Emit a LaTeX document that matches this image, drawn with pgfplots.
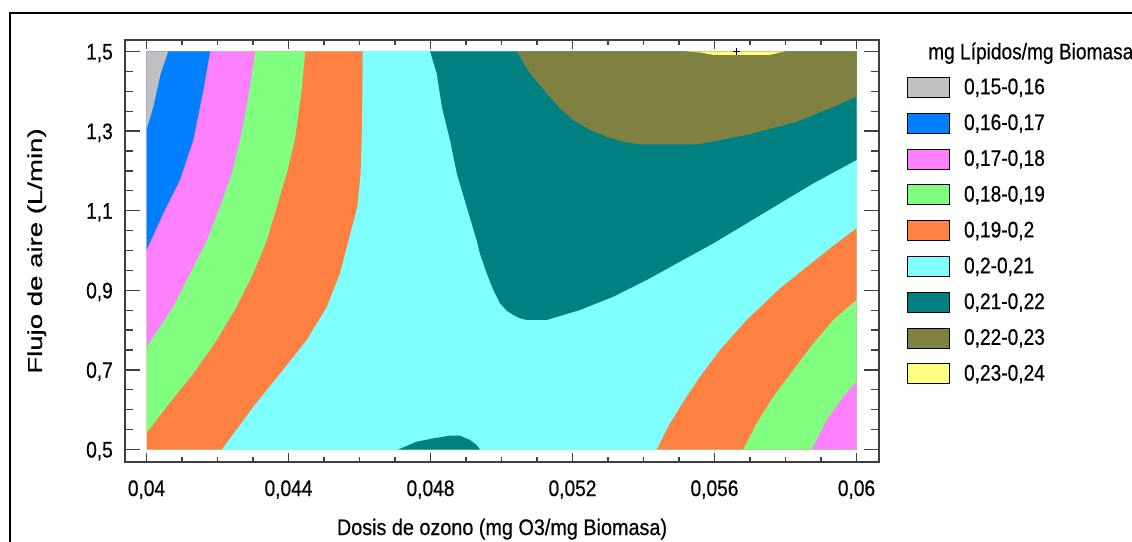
\documentclass[border=0pt]{standalone}
\usepackage{pgfplots}
\pgfplotsset{compat=1.18}
\usepackage{fontspec}
\setmainfont{Liberation Sans}[FakeStretch=0.85, FakeBold=0.5]
\newfontfamily\ylabfont{Liberation Sans}[FakeStretch=1.38, FakeBold=0.5]
\newfontfamily\xlabfont{Liberation Sans}[FakeStretch=0.88, FakeBold=0.5]
\newcommand\tfont{\fontsize{22.5bp}{27bp}\selectfont}
\definecolor{cgray}{HTML}{C0C0C0}
\definecolor{cblue}{HTML}{0080FF}
\definecolor{cpink}{HTML}{FF80FF}
\definecolor{cgreen}{HTML}{80FF80}
\definecolor{corange}{HTML}{FF8040}
\definecolor{ccyan}{HTML}{80FFFF}
\definecolor{cteal}{HTML}{008080}
\definecolor{colive}{HTML}{808040}
\definecolor{cyellow}{HTML}{FFFF80}
\definecolor{cframe}{HTML}{404040}
\begin{document}
\begin{tikzpicture}
\begin{axis}[
  at={(125bp,80bp)}, anchor=south west,
  scale only axis, width=754bp, height=422bp,
  xmin=0.039394, xmax=0.060634, ymin=0.4686, ymax=1.5289,
  axis line style={draw=cframe, line width=1.5bp},
  tick align=inside,
  xtick=\empty,
  ytick={0.5,0.7,0.9,1.1,1.3,1.5},
  yticklabels={{0,5},{0,7},{0,9},{1,1},{1,3},{1,5}},
  minor y tick num=3,
  major tick length=15bp, minor tick length=8bp,
  tick style={draw=cframe, line width=1.3bp},
  yticklabel style={font=\tfont, anchor=base east, inner sep=0pt, xshift=-12bp, yshift=-8bp},
  ylabel={Flujo de aire (L/min)},
  ylabel style={at={(axis description cs:-0.1101,0.5)}, anchor=base, inner sep=0pt,
    font=\ylabfont\fontsize{20bp}{24bp}\selectfont},
  legend image code/.code={\fill[#1] (0bp,-10bp) rectangle (42bp,10bp);},
  legend cell align=left,
  legend style={at={(axis description cs:1.0367,0.9123)}, anchor=north west,
    draw=none, fill=none, inner sep=0pt, outer sep=0pt,
    row sep=15.4bp, column sep=15bp, font=\tfont,
    nodes={inner sep=0pt, outer sep=0pt, text height=17bp, text depth=3bp}},
]
% background level 0,2-0,21
\addplot[fill=ccyan, draw=none, forget plot] coordinates {(0.04,0.5) (0.06,0.5) (0.06,1.5) (0.04,1.5)};
% left bands
\addplot[fill=corange, draw=none, forget plot] coordinates {
(0.04,1.5) (0.04609,1.5) (0.04608,1.40) (0.04606,1.278) (0.04603,1.194) (0.04594,1.110)
(0.04569,1.026) (0.04545,0.943) (0.04508,0.859) (0.04451,0.775) (0.04376,0.691)
(0.04301,0.608) (0.04212,0.5) (0.04,0.5)};
\addplot[fill=cgreen, draw=none, forget plot] coordinates {
(0.04,1.5) (0.04447,1.5) (0.04437,1.403) (0.04418,1.278) (0.04395,1.194) (0.04367,1.110)
(0.04339,1.026) (0.04301,0.943) (0.04254,0.859) (0.04198,0.775) (0.04132,0.691)
(0.04057,0.608) (0.04,0.541)};
\addplot[fill=cpink, draw=none, forget plot] coordinates {
(0.04,1.5) (0.04306,1.5) (0.04282,1.361) (0.04263,1.278) (0.04240,1.194) (0.04207,1.110)
(0.04170,1.026) (0.04123,0.943) (0.04075,0.859) (0.04,0.758)};
\addplot[fill=cblue, draw=none, forget plot] coordinates {
(0.04,1.5) (0.04179,1.5) (0.04160,1.403) (0.04132,1.278) (0.04094,1.177) (0.04047,1.093)
(0.04,1.001)};
\addplot[fill=cgray, draw=none, forget plot] coordinates {
(0.04,1.5) (0.04061,1.5) (0.04040,1.445) (0.04019,1.361) (0.04,1.303)};
% right bottom bands
\addplot[fill=corange, draw=none, forget plot] coordinates {
(0.06,0.5) (0.054372,0.5) (0.054747,0.5658) (0.055217,0.6327) (0.055592,0.6829)
(0.056156,0.75) (0.056908,0.8254) (0.057846,0.905) (0.058784,0.9719) (0.059254,1.0055)
(0.06,1.0558)};
\addplot[fill=cgreen, draw=none, forget plot] coordinates {
(0.06,0.5) (0.056812,0.5) (0.057189,0.5658) (0.057657,0.6327) (0.05822,0.6997)
(0.058784,0.7667) (0.059347,0.8254) (0.06,0.8756)};
\addplot[fill=cpink, draw=none, forget plot] coordinates {
(0.06,0.5) (0.058738,0.5) (0.05916,0.574) (0.059629,0.6327) (0.06,0.6704)};
% upper high region
\addplot[fill=cteal, draw=none, forget plot] coordinates {
(0.04799,1.5) (0.048175,1.445) (0.04832,1.361) (0.048549,1.2776) (0.04874,1.194)
(0.049019,1.11) (0.0493,1.026) (0.04939,0.993) (0.049583,0.9427) (0.049769,0.9008)
(0.049958,0.8673) (0.050146,0.8488) (0.050333,0.838) (0.050521,0.8296) (0.05071,0.8254)
(0.051273,0.8254) (0.052211,0.8505) (0.05315,0.884)
(0.05409,0.9259) (0.055028,0.9719) (0.055967,1.018) (0.056908,1.0683) (0.057846,1.1186)
(0.058784,1.1688) (0.06,1.2274) (0.06,1.5)};
\addplot[fill=colive, draw=none, forget plot] coordinates {
(0.050428,1.5) (0.050803,1.4452) (0.051273,1.395) (0.051648,1.3573) (0.052023,1.3279)
(0.052493,1.3028) (0.052964,1.2859) (0.053432,1.2734)
(0.053902,1.2668) (0.055499,1.2668) (0.056908,1.2902) (0.058316,1.3236) (0.059254,1.3573)
(0.06,1.3864) (0.06,1.5)};
\addplot[fill=cyellow, draw=none, forget plot] coordinates {
(0.055217,1.5) (0.0556,1.4975) (0.055967,1.4915) (0.057564,1.4915) (0.05785,1.4975)
(0.057987,1.5)};
% bottom bump
\addplot[fill=cteal, draw=none, forget plot] coordinates {
(0.047093,0.5) (0.047611,0.5196) (0.048079,0.5281) (0.048549,0.5347) (0.048831,0.5347)
(0.049113,0.5239) (0.049302,0.5113) (0.049395,0.5)};
% optimum marker
\addplot[only marks, mark=+, mark size=3.5bp, black, line width=0.8bp, forget plot] coordinates {(0.05663,1.5)};
% legend
\addlegendimage{fill=cgray}\addlegendentry{0,15-0,16}
\addlegendimage{fill=cblue}\addlegendentry{0,16-0,17}
\addlegendimage{fill=cpink}\addlegendentry{0,17-0,18}
\addlegendimage{fill=cgreen}\addlegendentry{0,18-0,19}
\addlegendimage{fill=corange}\addlegendentry{0,19-0,2}
\addlegendimage{fill=ccyan}\addlegendentry{0,2-0,21}
\addlegendimage{fill=cteal}\addlegendentry{0,21-0,22}
\addlegendimage{fill=colive}\addlegendentry{0,22-0,23}
\addlegendimage{fill=cyellow}\addlegendentry{0,23-0,24}
\end{axis}
\begin{axis}[
  at={(125bp,80bp)}, anchor=south west,
  scale only axis, width=754bp, height=422bp,
  xmin=0.039394, xmax=0.060634, ymin=0.4686, ymax=1.5289,
  axis line style={draw=cframe, line width=1.5bp},
  tick align=inside,
  ytick=\empty,
  scaled x ticks=false,
  xtick={0.04,0.044,0.048,0.052,0.056,0.06},
  xticklabels={{0,04},{0,044},{0,048},{0,052},{0,056},{0,06}},
  minor x tick num=3,
  major tick length=9bp, minor tick length=5bp,
  tick style={draw=cframe, line width=1.3bp},
  xticklabel style={font=\tfont, anchor=base, inner sep=0pt, yshift=-34bp},
  xlabel={Dosis de ozono (mg O3/mg Biomasa)},
  xlabel style={at={(axis description cs:0.5,-0.173)}, anchor=base, inner sep=0pt,
    font=\xlabfont\fontsize{22.5bp}{27bp}\selectfont},
]
\end{axis}
\node[anchor=base west, inner sep=0pt, font=\tfont] at (928bp,482.7bp) {mg Lípidos/mg Biomasa};
\draw[line width=2bp, black] (10bp,-10bp) -- (10bp,529bp) -- (1145bp,529bp);
\pgfresetboundingbox
\useasboundingbox (0bp,0bp) rectangle (1132bp,542bp);
\end{tikzpicture}
\end{document}
